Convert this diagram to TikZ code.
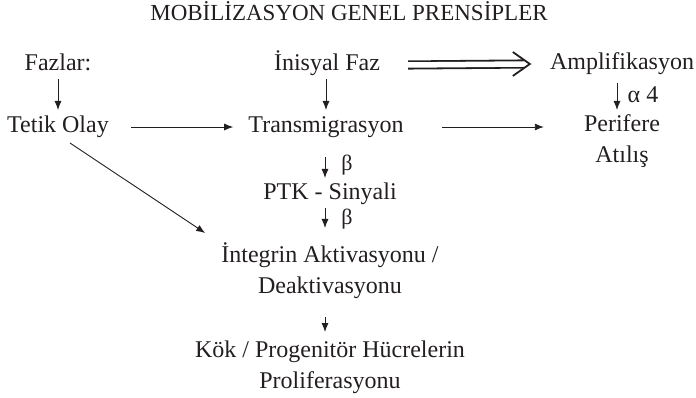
\documentclass[tikz,border=0pt]{standalone}
\usepackage{fontspec}
\setmainfont{Liberation Serif}
\usetikzlibrary{arrows.meta,calc}
\definecolor{ink}{HTML}{231F20}
\begin{document}
\begin{tikzpicture}[x=1pt,y=-1pt,
  txt/.style={inner sep=0pt, anchor=base, font=\fontsize{24}{31}\selectfont, text=ink, align=center},
  lbl/.style={inner sep=0pt, font=\fontsize{22}{26}\selectfont, text=ink},
  arr/.style={draw=ink, line width=0.9pt, -{Latex[length=9pt,width=7pt]}},
  dbl/.style={draw=ink, double, double distance=5.5pt, line width=1.8pt},
  chev/.style={draw=ink, line width=1.8pt, line join=miter}]
\useasboundingbox (0,0) rectangle (696,398);
\node[txt, font=\fontsize{23}{28}\selectfont] (title) at (349,21) {MOBİLİZASYON GENEL PRENSİPLER};
\node[txt] (fazlar) at (58,71) {Fazlar:};
\node[txt] (inisyal) at (327,71) {İnisyal Faz};
\node[txt] (amp) at (622,70) {Amplifikasyon};
\node[txt] (tetik) at (58,133) {Tetik Olay};
\node[txt] (transmig) at (326,133) {Transmigrasyon};
\node[txt] (perif) at (622,163) {Perifere\\Atılış};
\node[txt] (ptk) at (330,200) {PTK - Sinyali};
\node[txt] (integ) at (330,293) {İntegrin Aktivasyonu /\\Deaktivasyonu};
\node[txt] (kok) at (330,388) {Kök / Progenitör Hücrelerin\\Proliferasyonu};
% labels
\node[lbl] (b1) at ($(ptk.base)+(17,-35)$) {β};
\node[lbl] (b2) at ($(integ.base)+(17,-74)$) {β};
\node[lbl, anchor=base, font=\fontsize{24}{28}\selectfont] (a4) at ($(amp.base)+(21,33)$) {α 4};
% connectors
\draw[arr] ($(fazlar.base)+(0,8)$) -- ($(tetik.base)+(0,-23)$);
\draw[arr] ($(transmig.base)+(0,-54)$) -- ($(transmig.base)+(0,-23)$);
\draw[arr] ($(tetik.base east)+(22,-6)$) -- ($(transmig.base west)+(-15,-6)$);
\draw[arr] ($(transmig.base east)+(38,-6)$) -- ($(perif.base west)+(-40,-36)$);
\draw[dbl] ($(inisyal.base east)+(28,-6)$) -- ($(amp.base west)+(-26,-6)$);
\draw[chev] ($(amp.base west)+(-37,-18)$) -- ($(amp.base west)+(-20,-6)$) -- ($(amp.base west)+(-37,6)$);
\draw[arr] ($(amp.base)+(-5,13)$) -- ($(perif.base)+(-5,-53)$);
\draw[arr] ($(transmig.base)+(-1,24)$) -- ($(ptk.base)+(-5,-22)$);
\draw[arr] ($(ptk.base)+(-5,8)$) -- ($(integ.base)+(-5,-65)$);
\draw[arr] ($(integ.base)+(-5,24)$) -- ($(kok.base)+(-5,-56)$);
\draw[arr] ($(tetik.base)+(12,10)$) -- ($(integ.base west)+(-16,-60)$);
\end{tikzpicture}
\end{document}
